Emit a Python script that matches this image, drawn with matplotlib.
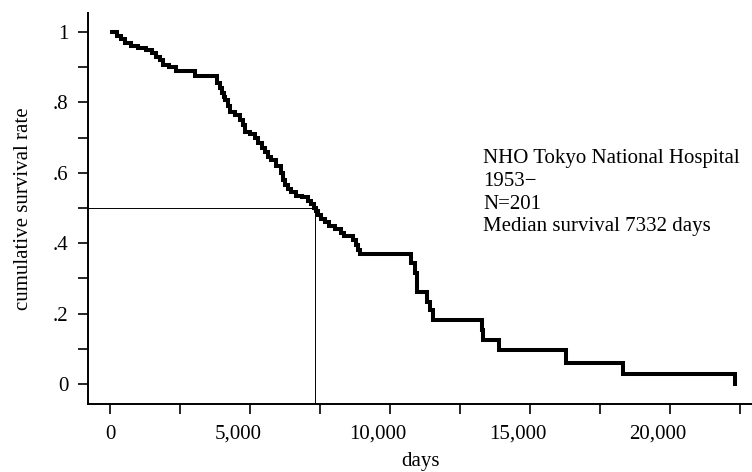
import matplotlib
matplotlib.use("Agg")
import matplotlib.pyplot as plt
from matplotlib.ticker import FixedLocator, MultipleLocator
from matplotlib.transforms import ScaledTranslation

# Kaplan-Meier curve (day of step, survival after step)
dias = [80, 250, 400, 550, 750, 1000, 1300, 1500, 1650, 1800, 1900, 2100, 2350,
        3040, 3820, 3930, 4000, 4070, 4110, 4210, 4290, 4460, 4640, 4750, 4820,
        5000, 5180, 5290, 5430, 5540, 5640, 5750, 5930, 6110, 6180, 6250, 6360,
        6460, 6640, 6860, 7070, 7180, 7290, 7360, 7430, 7540, 7680, 7820, 8040,
        8250, 8360, 8680, 8790, 8860, 8930, 10750, 10890, 10960, 11320, 11430,
        11540, 13290, 13320, 13890, 16290, 18320, 22320]
sobrev = [1.0, 0.99, 0.98, 0.97, 0.96, 0.955, 0.95, 0.94, 0.93, 0.92, 0.905, 0.9, 0.89,
          0.875, 0.855, 0.84, 0.827, 0.815, 0.807, 0.79, 0.773, 0.765, 0.75, 0.735, 0.716,
          0.71, 0.699, 0.685, 0.67, 0.66, 0.645, 0.635, 0.62, 0.60, 0.58, 0.565, 0.555,
          0.545, 0.535, 0.53, 0.52, 0.51, 0.50, 0.49, 0.48, 0.47, 0.46, 0.45, 0.44,
          0.43, 0.42, 0.41, 0.395, 0.38, 0.369, 0.343, 0.315, 0.261, 0.233, 0.21,
          0.182, 0.153, 0.125, 0.097, 0.06, 0.028, 0.0]
MEDIANA = 7332
xticks = [0, 5000, 10000, 15000, 20000]
xlabels = ["0", "5,000", "10,000", "15,000", "20,000"]
yticks = [0, 0.2, 0.4, 0.6, 0.8, 1.0]
ylabels = ["0", ".2", ".4", ".6", ".8", "1"]
NOTA = "NHO Tokyo National Hospital\n1953\u2212\nN=201\nMedian survival 7332 days"

plt.rcParams["font.family"] = ["Liberation Serif", "DejaVu Serif"]
plt.rcParams["font.size"] = 15

fig = plt.figure(figsize=(7.52, 4.72), dpi=100)
ax = fig.add_axes([88/752, 1 - 404/472, 1 - 88/752, (404 - 13)/472])

ax.step(dias, sobrev, where="post", color="black", lw=2.9, solid_joinstyle="miter")
ax.plot([-800, MEDIANA], [0.5, 0.5], color="black", lw=0.7)
ax.plot([MEDIANA, MEDIANA], [-0.1, 0.5], color="black", lw=0.7)

ax.set_xlim(-786, 22929)
ax.set_ylim(-0.057, 1.054)
for s in ["top", "right"]:
    ax.spines[s].set_visible(False)
for s in ["left", "bottom"]:
    ax.spines[s].set_linewidth(1.4)

ax.set_xticks(xticks)
ax.set_xticklabels(xlabels)
ax.xaxis.set_minor_locator(FixedLocator([2500, 7500, 12500, 17500, 22500]))
ax.set_yticks(yticks)
ax.set_yticklabels(ylabels)
ax.yaxis.set_minor_locator(MultipleLocator(0.2, offset=0.1))
ax.tick_params(which="both", direction="out", length=7, width=1.2)
ax.tick_params(axis="x", pad=8)
ax.tick_params(axis="y", pad=7)

# the source drew the multi-digit labels a bit left of their ticks
for lab in ax.get_xticklabels()[1:]:
    lab.set_transform(lab.get_transform() + ScaledTranslation(-0.12, 0, fig.dpi_scale_trans))

ax.set_xlabel("days", labelpad=6)
ax.set_ylabel("cumulative survival rate", labelpad=14)

fig.text(483/752, 1 - 149/472, NOTA, ha="left", va="top", linespacing=1.27)

fig.savefig("out.png", dpi=100)
